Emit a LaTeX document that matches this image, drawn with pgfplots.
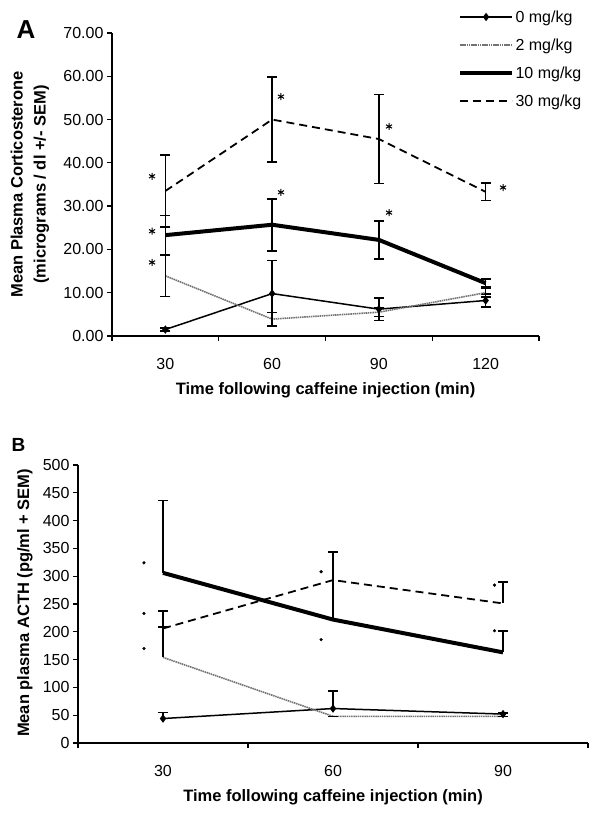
\documentclass[border=0pt]{standalone}
\usepackage{pgfplots}
\pgfplotsset{compat=1.18}
\usepackage{fontspec}
\setmainfont{Liberation Sans}
\begin{document}
\begin{tikzpicture}
\useasboundingbox (0bp,0bp) rectangle (600bp,819bp);
\pgfplotsset{
  every axis/.append style={
    scale only axis,
    axis x line*=bottom, axis y line*=left,
    axis line style={line width=1.5bp, black},
    tick style={line width=1.3bp, black},
    tick align=outside,
    major tick length=5bp,
    tick label style={font=\fontsize{16bp}{18bp}\selectfont},
    xticklabel style={yshift=-19bp},
    label style={font=\fontsize{16.5bp}{20bp}\selectfont\bfseries},
    clip=false,
    legend cell align=left,
    legend image code/.code={\draw[mark repeat=2, mark phase=2, #1] plot coordinates {(0bp,0bp) (26bp,0bp) (52bp,0bp)};},
  },
  s0/.style={black, line width=1.5bp, mark=diamond*, mark size=3bp, mark options={solid}},
  s2/.style={black!55, line width=1.6bp, dash pattern=on 1.5bp off 0.7bp},
  s10/.style={black, line width=4bp},
  s30/.style={black, line width=1.8bp, dash pattern=on 8bp off 5bp},
  eb/.style={error bars/.cd, y dir=#1, y explicit,
     error bar style={solid, black, line width=1.6bp},
     error mark options={rotate=90, solid, black, line width=1.6bp, mark size=5bp}},
  starA/.style={only marks, mark=asterisk, mark size=3.5bp, black, line width=1bp, forget plot},
  starB/.style={only marks, mark=*, mark size=1.4bp, black, forget plot},
}
% ---------------- Panel A ----------------
\begin{axis}[at={(112bp,483bp)}, anchor=south west, width=427bp, height=303bp,
  xmin=-0.5, xmax=3.5, ymin=0, ymax=70,
  xtick={-0.5,0.5,1.5,2.5,3.5}, xticklabels={},
  extra x ticks={0,1,2,3}, extra x tick labels={30,60,90,120},
  extra x tick style={major tick length=0pt},
  ytick={0,10,...,70},
  yticklabels={0.00,10.00,20.00,30.00,40.00,50.00,60.00,70.00},
  xlabel={Time following caffeine injection (min)},
  xlabel style={at={(axis description cs:0.5,-0.178)}, anchor=center},
  ylabel={Mean Plasma Corticosterone\\(micrograms / dl +/- SEM)},
  ylabel style={at={(axis description cs:-0.192,0.5)}, anchor=center, align=center,
     font=\fontsize{16.5bp}{23bp}\selectfont\bfseries},
  legend style={at={(axis description cs:0.81,1.08)}, anchor=north west, draw=none, fill=none,
     inner sep=0pt, row sep=12bp, font=\fontsize{16bp}{18bp}\selectfont, nodes={inner sep=1.5bp}},
]
\addplot[s0, eb=both] coordinates {(0,1.5) +- (0,0.4) (1,9.8) +- (0,7.6) (2,6.2) +- (0,2.6) (3,8.2) +- (0,1.5)};
\addlegendentry{0 mg/kg}
\addplot[s2, eb=both] coordinates {(0,13.9) +- (0,4.8) (1,3.9) +- (0,1.5) (2,5.5) +- (0,1.0) (3,10.0) +- (0,1.0)};
\addlegendentry{2 mg/kg}
\addplot[s10, eb=both] coordinates {(0,23.3) +- (0,4.5) (1,25.7) +- (0,6.0) (2,22.2) +- (0,4.4) (3,12.2) +- (0,0.9)};
\addlegendentry{10 mg/kg}
\addplot[s30, eb=both] coordinates {(0,33.5) +- (0,8.3) (1,50.0) +- (0,9.8) (2,45.5) +- (0,10.3) (3,33.3) +- (0,2.0)};
\addlegendentry{30 mg/kg}
\addplot[starA] coordinates {(-0.125,36.9) (-0.125,24.2) (-0.125,17.0) (1.083,55.3) (1.083,33.2) (2.095,48.4) (2.095,28.5) (3.163,34.3)};
\end{axis}
% ---------------- Panel B ----------------
\begin{axis}[at={(78bp,76bp)}, anchor=south west, width=510bp, height=278bp,
  xmin=-0.5, xmax=2.5, ymin=0, ymax=500,
  xtick={-0.5,0.5,1.5,2.5}, xticklabels={},
  extra x ticks={0,1,2}, extra x tick labels={30,60,90},
  extra x tick style={major tick length=0pt},
  ytick={0,50,...,500},
  yticklabels={0,50,100,150,200,250,300,350,400,450,500},
  xlabel={Time following caffeine injection (min)},
  xlabel style={at={(axis description cs:0.5,-0.194)}, anchor=center},
  ylabel={Mean plasma ACTH (pg/ml + SEM)},
  ylabel style={at={(axis description cs:-0.104,0.504)}, anchor=center},
]
\addplot[s0, eb=plus] coordinates {(0,44) +- (0,11) (1,62) +- (0,32) (2,52) +- (0,2)};
\addplot[s2, eb=plus] coordinates {(0,154) +- (0,55) (1,48) +- (0,0) (2,48) +- (0,0)};
\addplot[s10, eb=plus] coordinates {(0,306) +- (0,130) (1,222) +- (0,122) (2,163) +- (0,38)};
\addplot[s30, eb=plus] coordinates {(0,206) +- (0,31) (1,293) +- (0,51) (2,251) +- (0,39)};
\addplot[starB] coordinates {(-0.112,324) (-0.112,233) (-0.112,170) (0.93,308) (0.93,186) (1.95,284) (1.95,202)};
\end{axis}
\node[font=\fontsize{26bp}{28bp}\selectfont\bfseries] at (26bp,789bp) {A};
\node[font=\fontsize{19bp}{21bp}\selectfont\bfseries] at (18.5bp,374bp) {B};
\end{tikzpicture}
\end{document}
